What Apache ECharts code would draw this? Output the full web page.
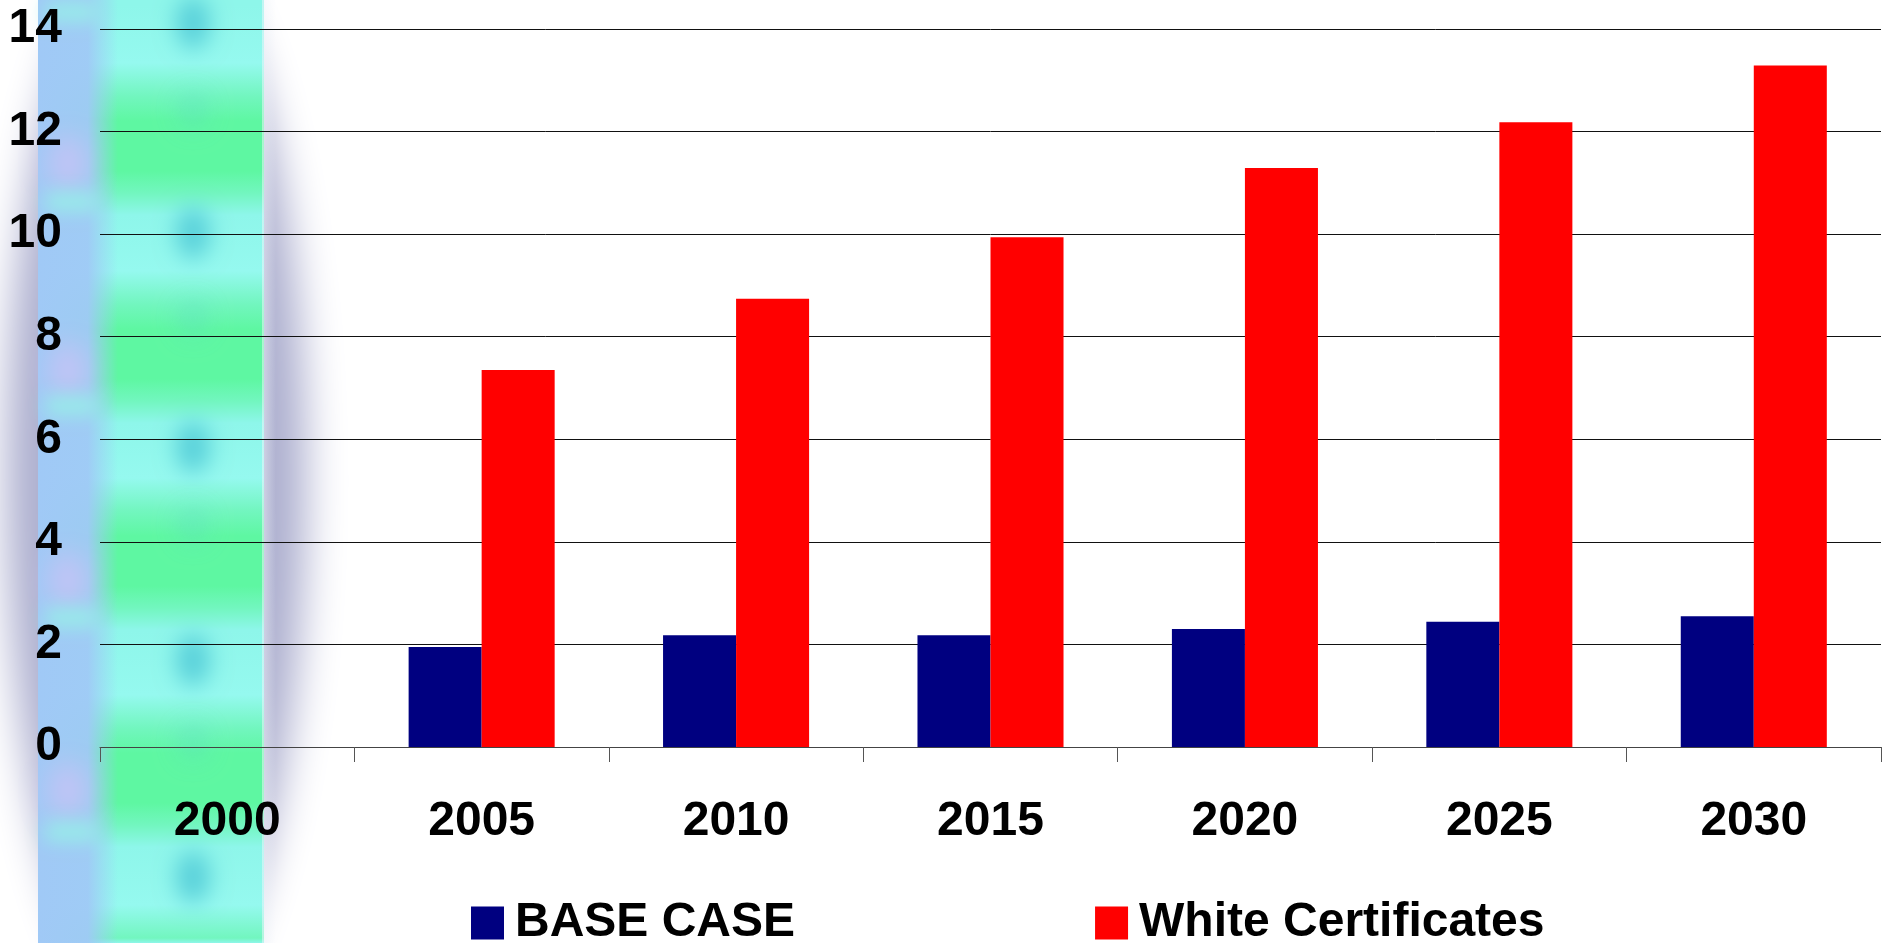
<!DOCTYPE html>
<html>
<head>
<meta charset="utf-8">
<title>BASE CASE vs White Certificates</title>
<script src="https://cdn.jsdelivr.net/npm/echarts@6/dist/echarts.min.js"></script>
<style>
  html, body { margin: 0; padding: 0; background: #fff; }
  #chart { width: 1895px; height: 943px; }
</style>
</head>
<body>
<div id="chart"></div>
<script>
// Years on the category axis
const categories = ['2000', '2005', '2010', '2015', '2020', '2025', '2030'];
// Series values (no value for 2000)
const baseCase = [null, 1.95, 2.18, 2.18, 2.30, 2.44, 2.55];
const whiteCertificates = [null, 7.35, 8.74, 9.94, 11.29, 12.18, 13.29];
// Value axis range
const yMin = 0;
const yMax = 14;
const yStep = 2;

// ---- decorative strip behind the left of the plot ----
const OFF = 4000; // draw shape off-canvas and bring back only its blurred shadow
function soft(type, shape, color, blur, z) {
  const s = Object.assign({}, shape);
  if (type === 'rect') s.x -= OFF; else s.cx -= OFF;
  return {
    type: type, shape: s, silent: true, z: z,
    style: { fill: color, shadowColor: color, shadowBlur: blur, shadowOffsetX: OFF }
  };
}

const H = 943;
const cyan = '#8ef6ea';
const cyanLight = '#95f9ef';
const green = '#5ef7a2';
const greenMid = '#72f6bf';
const greenBands = [-69, 141, 349, 556, 773, 983];
const stripStops = [{ offset: 0, color: cyan }];
greenBands.forEach(function (c) {
  [[c - 78, cyanLight], [c - 45, greenMid], [c - 20, green], [c + 30, green], [c + 52, greenMid], [c + 74, cyan]].forEach(function (p) {
    const o = p[0] / H;
    if (o > 0 && o < 1) stripStops.push({ offset: o, color: p[1] });
  });
});
stripStops.push({ offset: 1, color: cyan });

const deco = [];
// soft blue-grey halo around the strip
deco.push(soft('ellipse', { cx: 156, cy: 480, rx: 150, ry: 545 }, '#adafcf', 40, -30));
// the strip itself
deco.push({
  type: 'rect', silent: true, z: -29,
  shape: { x: 38, y: 0, width: 226, height: H },
  style: { fill: { type: 'linear', x: 0, y: 0, x2: 0, y2: 1, colorStops: stripStops } }
});
// bluish left band fading into the strip
deco.push({
  type: 'rect', silent: true, z: -28,
  shape: { x: 38, y: 0, width: 80, height: H },
  style: { fill: { type: 'linear', x: 0, y: 0, x2: 1, y2: 0, colorStops: [
    { offset: 0, color: 'rgba(160,201,246,1)' },
    { offset: 0.62, color: 'rgba(160,201,246,0.95)' },
    { offset: 1, color: 'rgba(160,201,246,0)' }
  ] } }
});
// lavender patches on the blue band
[163, 370, 580, 790].forEach(function (y) {
  deco.push(soft('ellipse', { cx: 68, cy: y, rx: 18, ry: 28 }, '#c6c3f6', 28, -27));
});
// aqua cross bands on the blue band
[202, 406, 618, 832, 12].forEach(function (y) {
  deco.push(soft('rect', { x: 46, y: y - 9, width: 52, height: 18 }, '#97eee9', 18, -27));
});
// deeper teal spots down the middle of the strip
[23, 233, 447, 660, 877].forEach(function (y) {
  deco.push(soft('ellipse', { cx: 193, cy: y, rx: 17, ry: 26 }, '#58d0da', 22, -26));
});
// faint teal smudges at the top of each green band
[110, 318, 525, 742].forEach(function (y) {
  deco.push(soft('ellipse', { cx: 193, cy: y, rx: 14, ry: 18 }, 'rgba(90,215,200,0.6)', 24, -26));
});
// pale highlight along the strip's right edge
deco.push({
  type: 'rect', silent: true, z: -25,
  shape: { x: 262, y: 0, width: 14, height: H },
  style: { fill: { type: 'linear', x: 0, y: 0, x2: 1, y2: 0, colorStops: [
    { offset: 0, color: 'rgba(240,244,250,0.55)' },
    { offset: 1, color: 'rgba(240,244,250,0)' }
  ] } }
});

const font = "'Liberation Sans', Arial, Helvetica, sans-serif";
const chart = echarts.init(document.getElementById('chart'), null, { renderer: 'canvas' });
chart.setOption({
  backgroundColor: '#ffffff',
  animation: false,
  textStyle: { fontFamily: font },
  graphic: { elements: deco },
  grid: { left: 100, right: 14, top: 29, bottom: 196, containLabel: false },
  legend: {
    left: 471, top: 899, padding: 0,
    icon: 'rect', itemWidth: 33, itemHeight: 33, itemGap: 300,
    textStyle: { fontFamily: font, fontSize: 48, fontWeight: 'bold', color: '#000', padding: [0, 0, 0, 6] },
    data: ['BASE CASE', 'White Certificates']
  },
  xAxis: {
    type: 'category',
    data: categories,
    axisLine: { lineStyle: { color: '#444', width: 1 } },
    axisTick: { show: true, length: 15, lineStyle: { color: '#555', width: 1 } },
    axisLabel: { fontFamily: font, fontSize: 48, fontWeight: 'bold', color: '#000', margin: 51 },
    splitLine: { show: false }
  },
  yAxis: {
    type: 'value',
    min: yMin, max: yMax, interval: yStep,
    axisLine: { show: false },
    axisTick: { show: false },
    axisLabel: { fontFamily: font, fontSize: 48, fontWeight: 'bold', color: '#000', margin: 38 },
    splitLine: { lineStyle: { color: '#111', width: 1 } }
  },
  series: [
    {
      name: 'BASE CASE', type: 'bar', data: baseCase,
      barGap: '0%', barCategoryGap: '42.6%',
      itemStyle: { color: '#000080' }
    },
    {
      name: 'White Certificates', type: 'bar', data: whiteCertificates,
      barGap: '0%', barCategoryGap: '42.6%',
      itemStyle: { color: '#ff0000' }
    }
  ]
});
</script>
</body>
</html>
